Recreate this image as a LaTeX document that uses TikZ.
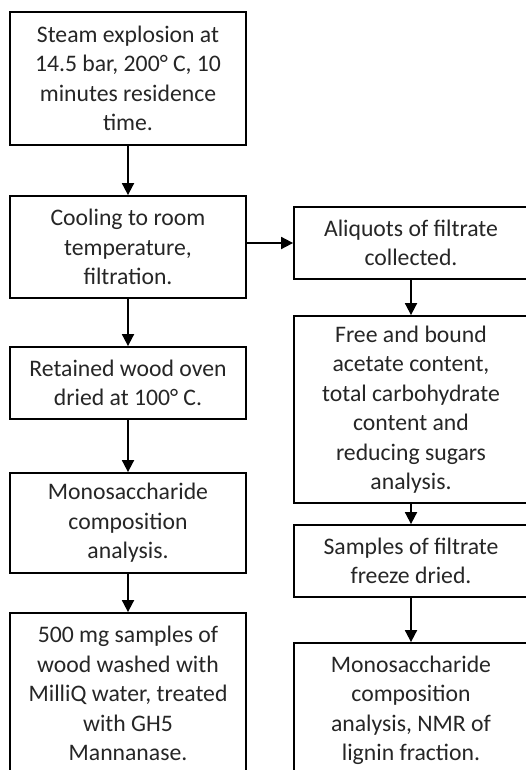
\documentclass[tikz,border=0pt]{standalone}
\usepackage{fontspec}
\setmainfont{Carlito}
\usetikzlibrary{arrows.meta}
\begin{document}
\begin{tikzpicture}[x=1pt,y=-1pt,
  box/.style={draw=black,line width=1.8pt,inner sep=0pt,align=center,
    font=\fontsize{23.7}{29.5}\selectfont,text=black!85},
  arr/.style={line width=1.8pt,-{Triangle[length=12pt,width=12pt]}}]
\useasboundingbox (0,0) rectangle (526,770);
\clip (0,0) rectangle (526,770);
\fill[white] (0,0) rectangle (526,770);
% left column
\node[box,minimum width=236pt,minimum height=133pt] (A) at (128,78.5)
  {Steam explosion at\\14.5 bar, 200° C, 10\\minutes residence\\time.};
\node[box,minimum width=236pt,minimum height=102pt] (B) at (128,247)
  {Cooling to room\\temperature,\\filtration.};
\node[box,minimum width=236pt,minimum height=72pt] (C) at (128,383)
  {Retained wood oven\\dried at 100° C.};
\node[box,minimum width=236pt,minimum height=100pt] (D) at (128,523)
  {Monosaccharide\\composition\\analysis.};
\node[box,minimum width=236pt,minimum height=161pt] (E) at (128,693.5)
  {500 mg samples of\\wood washed with\\MilliQ water, treated\\with GH5\\Mannanase.};
% right column
\node[box,minimum width=234pt,minimum height=72pt] (F) at (411,243)
  {Aliquots of filtrate\\collected.};
\node[box,minimum width=234pt,minimum height=187pt] (G) at (411,409.5)
  {Free and bound\\acetate content,\\total carbohydrate\\content and\\reducing sugars\\analysis.};
\node[box,minimum width=234pt,minimum height=72pt] (H) at (411,561)
  {Samples of filtrate\\freeze dried.};
\node[box,minimum width=234pt,minimum height=135pt] (I) at (411,710.5)
  {Monosaccharide\\composition\\analysis, NMR of\\lignin fraction.};
% connectors
\draw[arr] (A) -- (B);
\draw[arr] (B) -- (C);
\draw[arr] (C) -- (D);
\draw[arr] (D) -- (E);
\draw[arr] (B.east |- F.west) -- (F.west);
\draw[arr] (F) -- (G);
\draw[arr] (G) -- (H);
\draw[arr] (H) -- (I);
\end{tikzpicture}
\end{document}
